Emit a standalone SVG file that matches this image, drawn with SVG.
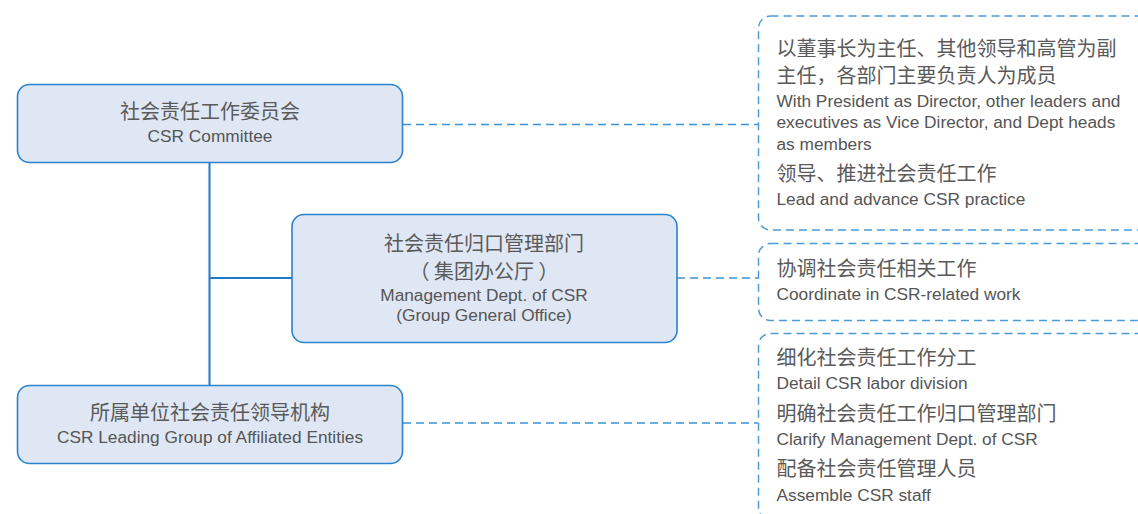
<svg xmlns="http://www.w3.org/2000/svg" width="1138" height="514" viewBox="0 0 1138 514">
<style>
.node{fill:#dfe7f4;stroke:#2a82cc;stroke-width:1.6}
.note{fill:none;stroke:#4a9bd9;stroke-width:1.5;stroke-dasharray:8 5}
.solid{stroke:#1f78c8;stroke-width:2;fill:none}
.dash{stroke:#3d93d6;stroke-width:1.5;stroke-dasharray:8 5;fill:none}
.zh{font-family:"Noto Sans CJK SC","Noto Sans",sans-serif;font-size:20px;fill:#5a5a5a}
.en{font-family:"Liberation Sans",Arial,sans-serif;font-size:17.3px;fill:#555555}
.c{text-anchor:middle}
</style>
<rect width="1138" height="514" fill="#ffffff"/>
<g id="connectors">
<path class="solid" d="M209.5 162.5V385.5M209.5 278H292"/>
<path class="dash" d="M403 124.5H758"/>
<path class="dash" d="M677 278H758"/>
<path class="dash" d="M403 423H758"/>
</g>
<g id="n1">
<rect class="node" x="17.5" y="84.5" width="385" height="78" rx="12"/>
<text class="zh c" x="210" y="118.5">社会责任工作委员会</text>
<text class="en c" x="210" y="142">CSR Committee</text>
</g>
<g id="n2">
<rect class="node" x="292" y="214.5" width="385" height="128" rx="12"/>
<text class="zh c" x="484" y="251">社会责任归口管理部门</text>
<text class="zh c" x="484" y="279">（ 集团办公厅 ）</text>
<text class="en c" x="484" y="301">Management Dept. of CSR</text>
<text class="en c" x="484" y="320.5">(Group General Office)</text>
</g>
<g id="n3">
<rect class="node" x="17.5" y="385.5" width="385" height="78" rx="12"/>
<text class="zh c" x="210" y="419.5">所属单位社会责任领导机构</text>
<text class="en c" x="210" y="442.5">CSR Leading Group of Affiliated Entities</text>
</g>
<g id="noteA">
<rect class="note" x="758.5" y="16" width="390" height="214" rx="12"/>
<text class="zh" x="776.5" y="56">以董事长为主任、其他领导和高管为副</text>
<text class="zh" x="776.5" y="82.5">主任，各部门主要负责人为成员</text>
<text class="en" x="776.5" y="106.7">With President as Director, other leaders and</text>
<text class="en" x="776.5" y="128.3">executives as Vice Director, and Dept heads</text>
<text class="en" x="776.5" y="150">as members</text>
<text class="zh" x="776.5" y="181">领导、推进社会责任工作</text>
<text class="en" x="776.5" y="205">Lead and advance CSR practice</text>
</g>
<g id="noteB">
<rect class="note" x="758.5" y="243.5" width="390" height="77" rx="12"/>
<text class="zh" x="776.5" y="276">协调社会责任相关工作</text>
<text class="en" x="776.5" y="300">Coordinate in CSR-related work</text>
</g>
<g id="noteC">
<rect class="note" x="758.5" y="333.5" width="390" height="186" rx="12"/>
<text class="zh" x="776.5" y="365">细化社会责任工作分工</text>
<text class="en" x="776.5" y="389.3">Detail CSR labor division</text>
<text class="zh" x="776.5" y="421">明确社会责任工作归口管理部门</text>
<text class="en" x="776.5" y="445">Clarify Management Dept. of CSR</text>
<text class="zh" x="776.5" y="476">配备社会责任管理人员</text>
<text class="en" x="776.5" y="500.7">Assemble CSR staff</text>
</g>
</svg>
